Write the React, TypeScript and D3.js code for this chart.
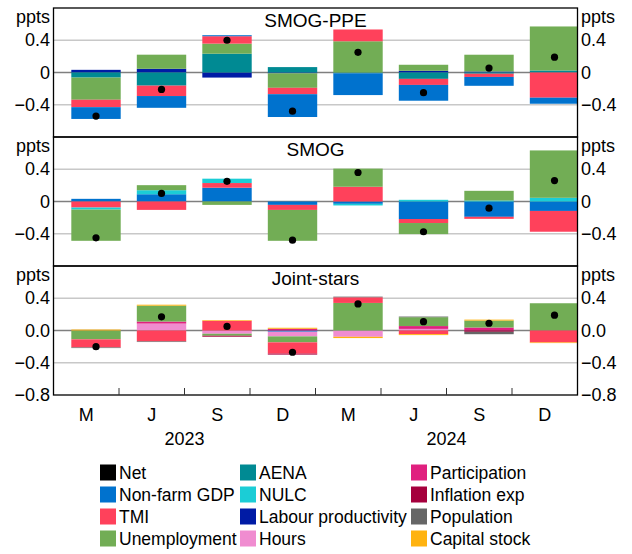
import React from 'react';
import * as d3 from 'd3';

// x categories (quarter months) and year groups
const categories = ['M', 'J', 'S', 'D', 'M', 'J', 'S', 'D'];
const years = ['2023', '2024'];
const yTicks = [0.4, 0, -0.4];
const yTicksBottom = [0.4, 0, -0.4, -0.8];

// SMOG-PPE
const ppeNet = [-0.54, -0.21, 0.4, -0.48, 0.25, -0.25, 0.055, 0.19];
const ppeNonFarmGdp = [-0.146, -0.146, 0.0125, -0.283, -0.27, -0.196, -0.11, -0.075];
const ppeTmi = [-0.092, -0.129, 0.092, -0.079, 0.146, -0.075, -0.04, -0.3125];
const ppeUnemployment = [-0.275, 0.175, 0.125, -0.18, 0.3875, 0.075, 0.208, 0.546];
const ppeAena = [-0.063, -0.163, 0.233, 0.067, -0.01, -0.079, -0.015, 0.025];
const ppeLabourProd = [0.033, 0.046, -0.063, -0.01, 0, 0.021, 0.0125, 0];

// SMOG
const smogNet = [-0.45, 0.1, 0.25, -0.48, 0.36, -0.375, -0.083, 0.26];
const smogNonFarmGdp = [0.033, 0.09, 0.171, -0.042, -0.029, -0.217, -0.19, -0.117];
const smogTmi = [-0.075, -0.104, 0.058, -0.0625, 0.183, -0.05, -0.025, -0.258];
const smogNulc = [-0.025, 0.05, 0.054, 0, -0.02, 0.021, 0.0125, 0.046];
const smogUnemployment = [-0.3875, 0.0625, -0.042, -0.383, 0.225, -0.1375, 0.12, 0.5875];

// Joint-stars
const jsNet = [-0.2, 0.17, 0.05, -0.27, 0.33, 0.11, 0.09, 0.19];
const jsNonFarmGdp = [0, 0, 0, -0.015, 0, 0, 0, 0];
const jsHours = [0, 0.086, -0.04, -0.058, -0.078, 0.02, 0, 0];
const jsParticipation = [0, 0.025, 0, 0.022, 0, 0.035, 0.037, 0];
const jsUnemployment = [-0.11, 0.197, -0.025, -0.074, 0.342, 0.11, 0.086, 0.338];
const jsTmi = [-0.1, -0.135, 0.12, -0.14, 0.07, -0.045, 0, -0.148];
const jsInflationExp = [0, 0, -0.012, -0.012, 0, 0, -0.016, 0];
const jsPopulation = [-0.008, -0.008, 0, 0, 0.008, 0.008, -0.03, 0];
const jsCapitalStock = [0.012, 0.012, 0.008, 0.012, -0.016, -0.012, 0.012, -0.008];

const legendItems = [
  { key: 'net', label: 'Net', color: '#000000' },
  { key: 'nfgdp', label: 'Non-farm GDP', color: '#0072CE' },
  { key: 'tmi', label: 'TMI', color: '#FF415B' },
  { key: 'unemp', label: 'Unemployment', color: '#72AD55' },
  { key: 'aena', label: 'AENA', color: '#008A93' },
  { key: 'nulc', label: 'NULC', color: '#1BCDD6' },
  { key: 'lp', label: 'Labour productivity', color: '#001BA5' },
  { key: 'hours', label: 'Hours', color: '#F08CD0' },
  { key: 'part', label: 'Participation', color: '#E0207F' },
  { key: 'infl', label: 'Inflation exp', color: '#A5003D' },
  { key: 'pop', label: 'Population', color: '#666666' },
  { key: 'cap', label: 'Capital stock', color: '#FFB310' },
];
const colorOf = Object.fromEntries(legendItems.map(d => [d.key, d.color]));

// each panel stacks its series in its own order (first = nearest zero)
const panels = [
  {
    title: 'SMOG-PPE',
    net: ppeNet,
    series: { lp: ppeLabourProd, aena: ppeAena, unemp: ppeUnemployment, tmi: ppeTmi, nfgdp: ppeNonFarmGdp },
    ticks: yTicks,
    fmt: d3.format('.1f'),
  },
  {
    title: 'SMOG',
    net: smogNet,
    series: { nfgdp: smogNonFarmGdp, tmi: smogTmi, nulc: smogNulc, unemp: smogUnemployment },
    ticks: yTicks,
    fmt: d3.format('.1f'),
  },
  {
    title: 'Joint-stars',
    net: jsNet,
    series: {
      nfgdp: jsNonFarmGdp, hours: jsHours, part: jsParticipation, unemp: jsUnemployment,
      tmi: jsTmi, infl: jsInflationExp, pop: jsPopulation, cap: jsCapitalStock,
    },
    ticks: yTicksBottom,
    fmt: d3.format('.1f'),
  },
];

const W = 632;
const H = 554;
const left = 53.5;
const right = 577.5;
const top = 8;
const panelH = 129;
const font = 'Arial, "Liberation Sans", sans-serif';

export default function App() {
  const x = d3.scaleBand<number>().domain(d3.range(categories.length)).range([left, right]);
  const bw = x.bandwidth();
  const barX = (i: number) => (x(i) as number) + bw * 0.272;
  const barW = bw * 0.754;
  const bottom = top + panelH * panels.length;

  return (
    <svg width={W} height={H} style={{ position: 'absolute', left: 0, top: 0 }} fontFamily={font}>
      <defs>
        <clipPath id="plotclip">
          <rect x={left} y={top} width={right - left} height={bottom - top} />
        </clipPath>
      </defs>
      {panels.map((p, pi) => {
        const y0 = top + pi * panelH;
        const y = d3.scaleLinear().domain([-0.8, 0.8]).range([y0 + panelH, y0]);
        const keys = Object.keys(p.series);
        const rows = categories.map((_, i) => {
          const r: Record<string, number> = {};
          keys.forEach(k => { r[k] = (p.series as any)[k][i]; });
          return r;
        });
        const stacked = d3.stack<Record<string, number>>()
          .keys(keys)
          .offset(d3.stackOffsetDiverging)(rows);
        const isLast = pi === panels.length - 1;
        const fmt = (v: number) => (pi < 2 && v === 0 ? '0' : p.fmt(v));
        return (
          <g key={p.title}>
            {[0.4, -0.4].map(v => (
              <line key={v} x1={left} x2={right} y1={y(v)} y2={y(v)} stroke="#c8c8c8" strokeWidth={1.3} />
            ))}
            <line x1={left} x2={right} y1={y(0)} y2={y(0)} stroke="#7f7f7f" strokeWidth={1.5} />
            <g clipPath="url(#plotclip)">
              {stacked.map(s => (
                <g key={s.key} fill={colorOf[s.key]}>
                  {s.map((d, i) => {
                    const a = y(d[0]);
                    const b = y(d[1]);
                    const h = Math.abs(a - b);
                    if (h < 0.01) return null;
                    return <rect key={i} x={barX(i)} width={barW} y={Math.min(a, b)} height={h} />;
                  })}
                </g>
              ))}
              {p.net.map((v, i) => (
                <circle key={i} cx={barX(i) + barW / 2} cy={y(v)} r={3.6} fill="#000" />
              ))}
            </g>
            <rect x={left} y={y0} width={right - left} height={panelH} fill="none" stroke="#000" strokeWidth={1.3} />
            <text x={(left + right) / 2} y={y0 + 18.5} textAnchor="middle" fontSize={19}>{p.title}</text>
            <text x={50} y={y0 + 14.5} textAnchor="end" fontSize={18}>ppts</text>
            <text x={581} y={y0 + 14.5} textAnchor="start" fontSize={18}>ppts</text>
            {p.ticks.map(v => (
              <g key={v} fontSize={18}>
                <text x={50} y={y(v)} textAnchor="end" dominantBaseline="central">{fmt(v)}</text>
                <text x={581} y={y(v)} textAnchor="start" dominantBaseline="central">{fmt(v)}</text>
              </g>
            ))}
            {isLast && d3.range(1, categories.length).map(i => (
              <line key={i} x1={x(i)} x2={x(i)} y1={y0 + panelH} y2={y0 + panelH - 7} stroke="#333" strokeWidth={1} />
            ))}
          </g>
        );
      })}
      {categories.map((c, i) => (
        <text key={i} x={(x(i) as number) + bw / 2} y={421} textAnchor="middle" fontSize={18}>{c}</text>
      ))}
      {years.map((yr, i) => (
        <text key={yr} x={left + (right - left) * (i * 2 + 1) / 4} y={445} textAnchor="middle" fontSize={18}>{yr}</text>
      ))}
      {legendItems.map((d, i) => {
        const col = Math.floor(i / 4);
        const row = i % 4;
        const sx = [100, 240, 411][col];
        const cy = 472.5 + row * 22;
        return (
          <g key={d.key}>
            <rect x={sx} y={cy - 8} width={16} height={16} fill={d.color} />
            <text x={sx + 19} y={cy} dominantBaseline="central" fontSize={17.5}>{d.label}</text>
          </g>
        );
      })}
    </svg>
  );
}
